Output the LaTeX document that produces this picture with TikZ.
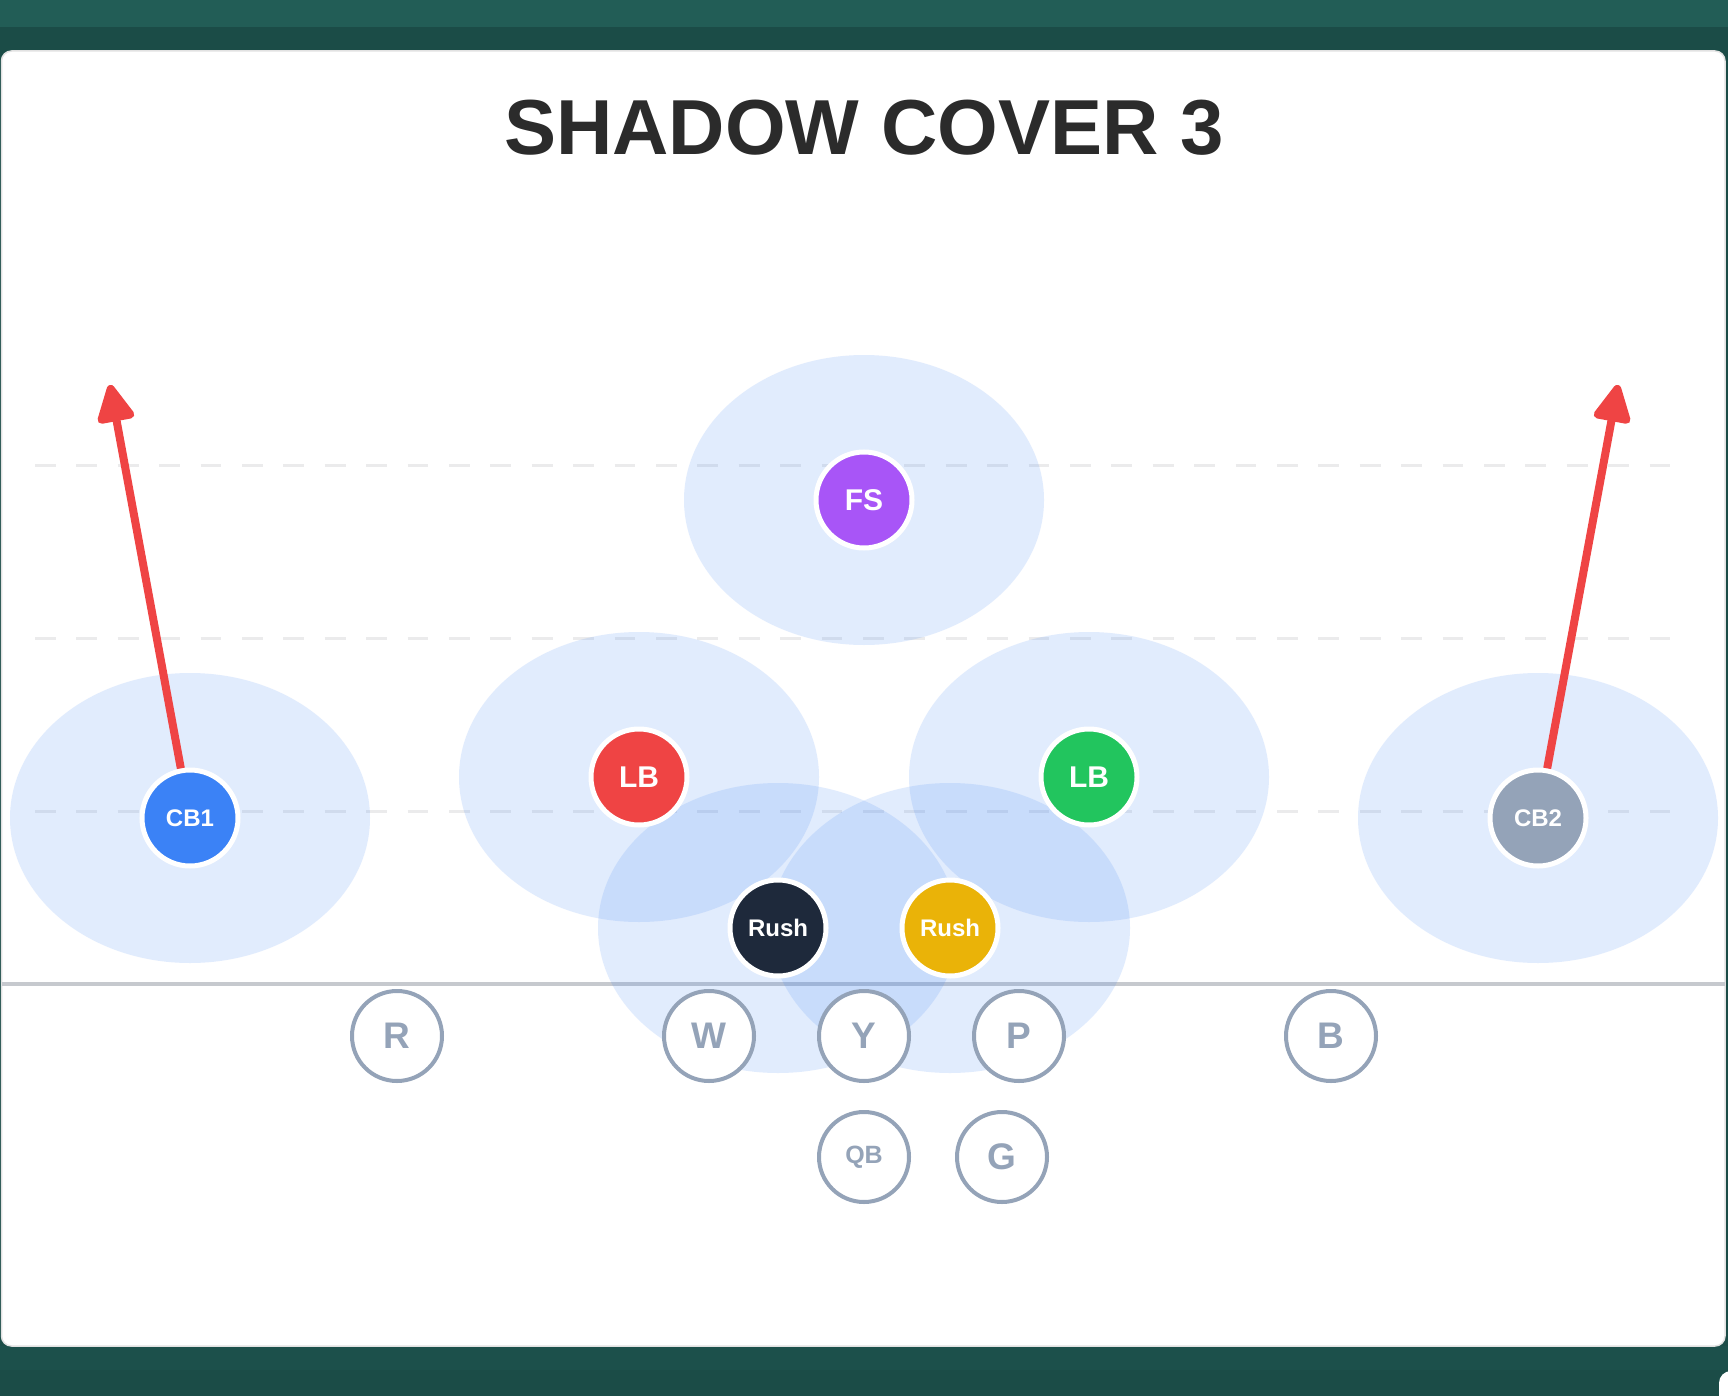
\documentclass[tikz,border=0pt]{standalone}
\usepackage{fontspec}
\setmainfont{Liberation Sans}
\usetikzlibrary{arrows.meta}
\definecolor{bgA}{HTML}{225D56}
\definecolor{bgB}{HTML}{1B4C47}
\definecolor{bgC}{HTML}{1C504B}
\definecolor{cardedge}{HTML}{E2E2E2}
\definecolor{titlecol}{HTML}{2B2B2B}
\definecolor{zoneblue}{HTML}{3B82F6}
\definecolor{yardcol}{HTML}{EBEBEC}
\definecolor{loscol}{HTML}{C6C9CE}
\definecolor{offcol}{HTML}{94A3B8}
\definecolor{cbblue}{HTML}{3B82F6}
\definecolor{fspurple}{HTML}{A855F7}
\definecolor{lbred}{HTML}{EF4444}
\definecolor{lbgreen}{HTML}{22C55E}
\definecolor{rushdark}{HTML}{1E293B}
\definecolor{rushyellow}{HTML}{EAB308}
\definecolor{cbgray}{HTML}{94A3B8}
\definecolor{routered}{HTML}{EF4444}
\begin{document}
\begin{tikzpicture}[x=1pt,y=-1pt,
  zone/.style={fill=zoneblue,fill opacity=0.15},
  yardline/.style={draw=yardcol,line width=3pt,dash pattern=on 20.7pt off 20.7pt},
  defender/.style={circle,draw=white,line width=5pt,minimum size=96pt,inner sep=0pt,
    text=white,font=\fontsize{30}{36}\selectfont\bfseries},
  smalldef/.style={defender,font=\fontsize{24}{28}\selectfont\bfseries},
  offense/.style={circle,draw=offcol,fill=white,line width=4pt,minimum size=90pt,inner sep=0pt,
    text=offcol,font=\fontsize{37}{42}\selectfont\bfseries},
  smalloff/.style={offense,font=\fontsize{25}{30}\selectfont\bfseries},
  route/.style={draw=routered,line width=8pt,-{Triangle[length=42pt,width=40pt,round]}}
]
\useasboundingbox (0,0) rectangle (1728,1396);
\clip (0,0) rectangle (1728,1396);
% background
\fill[bgB] (0,0) rectangle (1728,1396);
\fill[bgA] (0,0) rectangle (1728,27);
\fill[bgC] (0,1346) rectangle (1728,1370);
\fill[white,rounded corners=12pt] (1719,1371) rectangle (1780,1440);
% card
\filldraw[fill=white,draw=cardedge,line width=1.5pt,rounded corners=10pt] (1.5,51) rectangle (1725,1346);
% title
\node[anchor=base,text=titlecol,font=\fontsize{78}{90}\selectfont\bfseries,inner sep=0pt] (title) at (864,155) {SHADOW COVER 3};
% yard lines
\draw[yardline] (35,465) -- (1675,465);
\draw[yardline] (35,638) -- (1675,638);
\draw[yardline] (35,811) -- (1675,811);
% line of scrimmage
\draw[loscol,line width=4.5pt] (1.5,984) -- (1725,984);
% zones
\fill[zone] (864,500) ellipse [x radius=180pt,y radius=145pt];
\fill[zone] (639,777) ellipse [x radius=180pt,y radius=145pt];
\fill[zone] (1089,777) ellipse [x radius=180pt,y radius=145pt];
\fill[zone] (190,818) ellipse [x radius=180pt,y radius=145pt];
\fill[zone] (1538,818) ellipse [x radius=180pt,y radius=145pt];
\fill[zone] (778,928) ellipse [x radius=180pt,y radius=145pt];
\fill[zone] (950,928) ellipse [x radius=180pt,y radius=145pt];
% defenders
\node[defender,fill=fspurple] (fs) at (864,500) {FS};
\node[defender,fill=lbred] (lbl) at (639,777) {LB};
\node[defender,fill=lbgreen] (lbr) at (1089,777) {LB};
\node[smalldef,fill=cbblue] (cb1) at (190,818) {CB1};
\node[smalldef,fill=cbgray] (cb2) at (1538,818) {CB2};
\node[smalldef,fill=rushdark] (rush1) at (778,928) {Rush};
\node[smalldef,fill=rushyellow] (rush2) at (950,928) {Rush};
% offense
\node[offense] (r) at (397,1036) {R};
\node[offense] (w) at (709,1036) {W};
\node[offense] (y) at (864,1036) {Y};
\node[offense] (p) at (1019,1036) {P};
\node[offense] (b) at (1331,1036) {B};
\node[smalloff] (qb) at (864,1157) {QB};
\node[offense] (g) at (1002,1157) {G};
% routes
\coordinate (t1) at (110,385);
\coordinate (t2) at (1618,385);
\draw[route] (cb1) -- (t1);
\draw[route] (cb2) -- (t2);
\end{tikzpicture}
\end{document}
